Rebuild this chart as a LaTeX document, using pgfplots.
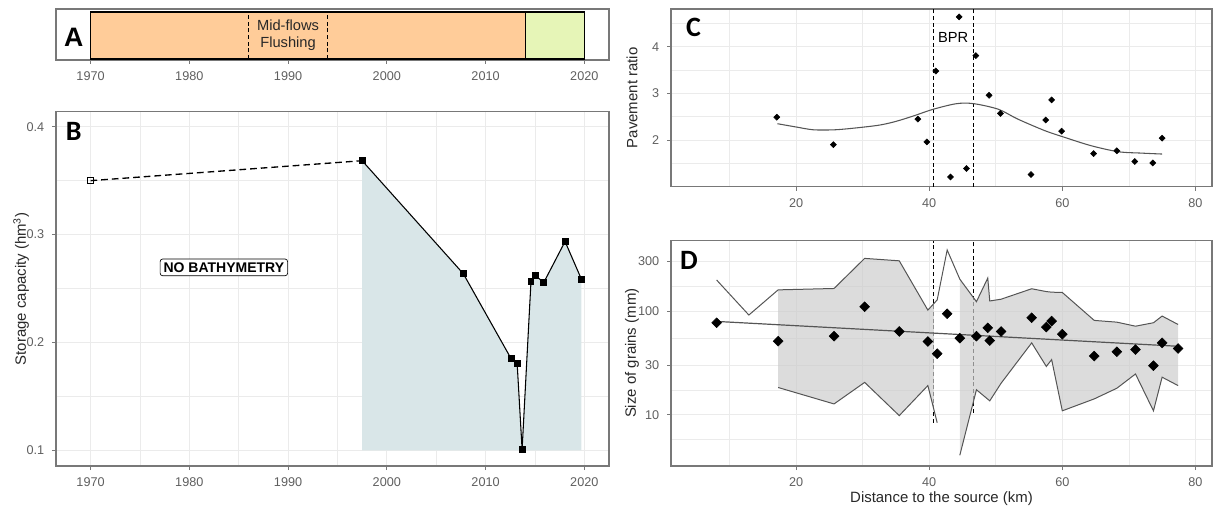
\documentclass[border=0pt]{standalone}
\usepackage{fontspec}
\setmainfont{Liberation Sans}
\newfontfamily\carlito{Carlito}
\usepackage{pgfplots}
\pgfplotsset{compat=1.18}
\definecolor{gridc}{RGB}{235,235,235}
\definecolor{framec}{RGB}{120,120,120}
\definecolor{tickc}{RGB}{95,95,95}
\definecolor{titlec}{RGB}{40,40,40}
\definecolor{orangeA}{RGB}{255,204,153}
\definecolor{greenA}{RGB}{230,245,183}
\definecolor{fillB}{RGB}{217,230,232}
\definecolor{ribbonc}{RGB}{205,205,205}
\definecolor{linec}{RGB}{85,85,85}
\pgfplotsset{
  ggbase/.style={
    scale only axis,
    anchor=south west,
    axis line style={draw=framec, line width=0.9pt},
    tick align=outside,
    major tick length=3pt,
    minor tick length=0pt,
    tick style={color=framec, line width=0.6pt},
    xtick pos=left, ytick pos=left,
    ticklabel style={font=\fontsize{9.5}{10}\selectfont, text=tickc},
    /pgf/number format/assume math mode=true,
    major grid style={color=gridc, line width=0.7pt},
    minor grid style={color=gridc, line width=0.45pt},
    label style={font=\fontsize{11.2}{13}\selectfont, text=titlec},
    xticklabel style={yshift=-2.3pt},
    yticklabel style={xshift=-2.3pt},
  }
}
\begin{document}
\begin{tikzpicture}
\path[use as bounding box] (0,0) rectangle (909.75pt,381pt);

% ---------------- Panel A ----------------
\begin{axis}[ggbase, at={(42pt,336pt)}, width=414.75pt, height=38.25pt,
  xmin=1966.5, xmax=2022.5, ymin=0, ymax=51,
  xtick={1970,1980,1990,2000,2010,2020},
  xticklabels={1970,1980,1990,2000,2010,2020},
  ytick=\empty]
\addplot[draw=black, line width=0.8pt, fill=orangeA] coordinates {(1970,1) (2014,1) (2014,48) (1970,48)} -- cycle;
\addplot[draw=black, line width=0.8pt, fill=greenA] coordinates {(2014,1) (2020,1) (2020,48) (2014,48)} -- cycle;
\addplot[black, line width=0.8pt, dash pattern=on 3pt off 2pt] coordinates {(1986,1) (1986,48)};
\addplot[black, line width=0.8pt, dash pattern=on 3pt off 2pt] coordinates {(1994,1) (1994,48)};
\node[align=center, font=\fontsize{11}{12.5}\selectfont, text=titlec] at (axis cs:1990,24.5) {Mid-flows\\Flushing};
\node[font=\bfseries\fontsize{20}{20}\selectfont] at (axis cs:1968.3,23) {A};
\end{axis}

% ---------------- Panel B ----------------
\begin{axis}[ggbase, at={(42pt,31.5pt)}, width=414.75pt, height=265.7pt,
  xmin=1966.5, xmax=2022.5, ymin=0.0855, ymax=0.4139,
  xtick={1970,1980,1990,2000,2010,2020},
  xticklabels={1970,1980,1990,2000,2010,2020},
  ytick={0.1,0.2,0.3,0.4}, yticklabels={0.1,0.2,0.3,0.4},
  minor xtick={1975,1985,1995,2005,2015}, minor ytick={0.15,0.25,0.35},
  xmajorgrids, ymajorgrids, xminorgrids, yminorgrids,
  ylabel={Storage capacity (hm\textsuperscript{3})},
  ylabel style={at={(axis description cs:-0.063,0.5)}, anchor=center}]
\addplot[draw=none, fill=fillB] coordinates {(1997.5,0.1) (1997.5,0.3685) (2007.75,0.2637) (2012.6,0.1848) (2013.2,0.1804) (2013.7,0.1009) (2014.6,0.2566) (2015.05,0.2619) (2015.9,0.2557) (2018.05,0.2936) (2019.7,0.2588) (2019.7,0.1)} -- cycle;
\addplot[black, line width=1pt, dash pattern=on 5pt off 3pt] coordinates {(1970,0.35) (1997.5,0.3685)};
\addplot[black, line width=0.8pt, mark=square*, mark size=2.2pt, mark options={solid, fill=black}] coordinates {(1997.5,0.3685) (2007.75,0.2637) (2012.6,0.1848) (2013.2,0.1804) (2013.7,0.1009) (2014.6,0.2566) (2015.05,0.2619) (2015.9,0.2557) (2018.05,0.2936) (2019.7,0.2588)};
\addplot[only marks, mark=square, mark size=2.2pt, mark options={fill=white, draw=black, line width=0.7pt}] coordinates {(1970,0.35)};
\node[draw=black, rounded corners=2pt, fill=white, line width=0.5pt, inner sep=2.6pt, font=\bfseries\fontsize{10.5}{12}\selectfont] at (axis cs:1983.5,0.2696) {NO BATHYMETRY};
\node[font=\carlito\bfseries\fontsize{21}{21}\selectfont] at (axis cs:1968.3,0.3954) {B};
\end{axis}

% ---------------- Panel C ----------------
\begin{axis}[ggbase, at={(503.25pt,240.98pt)}, width=405.75pt, height=133.27pt,
  xmin=1.2, xmax=82.5, ymin=1.0, ymax=4.81,
  xtick={20,40,60,80}, xticklabels={20,40,60,80},
  ytick={2,3,4}, yticklabels={2,3,4},
  minor xtick={10,30,50,70}, minor ytick={1.5,2.5,3.5,4.5},
  xmajorgrids, ymajorgrids, xminorgrids, yminorgrids,
  ylabel={Pavement ratio},
  ylabel style={at={(axis description cs:-0.0722,0.5)}, anchor=center}]
\addplot[black, line width=0.7pt, dash pattern=on 3pt off 2pt] coordinates {(40.7,1.0) (40.7,4.81)};
\addplot[black, line width=0.7pt, dash pattern=on 3pt off 2pt] coordinates {(46.7,1.0) (46.7,4.81)};
\addplot[linec, line width=0.8pt, smooth] coordinates {(17.2,2.35) (20,2.28) (22.6,2.22) (25.8,2.22) (29,2.26) (32.5,2.32) (35,2.40) (37.7,2.52) (40.6,2.66) (44.1,2.78) (46.7,2.78) (50.4,2.66) (53.3,2.45) (57.4,2.20) (60.3,2.06) (64.3,1.88) (68.4,1.75) (71.9,1.72) (75.0,1.70)};
\addplot[only marks, mark=square*, mark size=1.6pt, mark options={rotate=45, fill=black, draw=black}] coordinates {(17.1,2.49) (25.6,1.90) (38.3,2.45) (39.65,1.96) (41.0,3.48) (43.2,1.21) (44.5,4.64) (45.6,1.39) (47.0,3.81) (49.0,2.96) (50.7,2.57) (55.3,1.26) (57.5,2.43) (58.4,2.86) (59.9,2.19) (64.7,1.71) (68.2,1.77) (70.9,1.54) (73.6,1.51) (75.0,2.04)};
\node[font=\fontsize{11}{12}\selectfont, text=black] at (axis cs:43.6,4.19) {BPR};
\node[font=\carlito\bfseries\fontsize{21}{21}\selectfont] at (axis cs:4.6,4.42) {C};
\end{axis}

% ---------------- Panel D ----------------
\begin{axis}[ggbase, at={(503.25pt,31.5pt)}, width=405.75pt, height=169.1pt,
  xmin=1.2, xmax=82.5, ymode=log, ymin=3.2, ymax=478.6,
  xtick={20,40,60,80}, xticklabels={20,40,60,80},
  ytick={10,30,100,300}, yticklabels={10,30,100,300},
  minor xtick={10,30,50,70}, minor ytick={5.77,17.3,54.8,173.2},
  xmajorgrids, ymajorgrids, xminorgrids, yminorgrids,
  ylabel={Size of grains (mm)},
  ylabel style={at={(axis description cs:-0.0722,0.5)}, anchor=center},
  xlabel={Distance to the source (km)},
  xlabel style={at={(axis description cs:0.5,-0.1464)}, anchor=center}]
\addplot[black, line width=0.7pt, dash pattern=on 3pt off 2pt] coordinates {(40.7,8.4) (40.7,478.6)};
\addplot[black, line width=0.7pt, dash pattern=on 3pt off 2pt] coordinates {(46.7,10.4) (46.7,478.6)};
\addplot[draw=none, fill=ribbonc, fill opacity=0.7] coordinates {(17.3,160) (25.7,165) (30.3,322) (35.5,305) (39.8,102) (40.7,118) (40.7,11.2) (39.8,19.1) (35.5,9.8) (30.3,20.5) (25.7,12.7) (17.3,18.3)} -- cycle;
\addplot[draw=none, fill=ribbonc, fill opacity=0.7] coordinates {(44.6,203) (47.1,123) (48.8,208) (49.1,125) (50.8,130) (55.4,164) (57.6,154) (58.4,152) (60.0,151) (64.8,81.2) (68.2,78.1) (71.0,71.4) (73.7,77.1) (75.0,89.4) (77.4,74.2) (77.4,19.1) (75.0,23.0) (73.7,10.9) (71.0,24.7) (68.2,18.0) (64.8,14.2) (60.0,10.9) (58.4,34) (57.6,29.2) (55.4,49.3) (50.8,20.1) (49.1,13.6) (47.1,17.4) (44.6,4.06)} -- cycle;
\addplot[linec, line width=0.75pt] coordinates {(8.06,199) (12.9,91.5) (17.3,160) (25.7,165) (30.3,322) (35.5,305) (39.8,102) (41.2,128) (42.7,388) (44.6,203) (47.1,123) (48.8,208) (49.1,125) (50.8,130) (55.4,164) (57.6,154) (58.4,152) (60.0,151) (64.8,81.2) (68.2,78.1) (71.0,71.4) (73.7,77.1) (75.0,89.4) (77.4,74.2)};
\addplot[linec, line width=0.75pt] coordinates {(17.3,18.3) (25.7,12.7) (30.3,20.5) (35.5,9.8) (39.8,19.1) (41.2,8.36)};
\addplot[linec, line width=0.75pt] coordinates {(44.6,4.06) (47.1,17.4) (49.1,13.6) (50.8,20.1) (55.4,49.3) (57.6,29.2) (58.4,34) (60.0,10.9) (64.8,14.2) (68.2,18.0) (71.0,24.7) (73.7,10.9) (75.0,23.0) (77.4,19.1)};
\addplot[linec, line width=0.9pt] coordinates {(8.06,79.4) (77.4,45.7)};
\addplot[only marks, mark=square*, mark size=2.6pt, mark options={rotate=45, fill=black, draw=black}] coordinates {(8.06,77) (17.3,51.2) (25.7,57.2) (30.3,110) (35.5,63.5) (39.8,50.8) (41.2,38.8) (42.7,94.2) (44.6,54.7) (47.1,57.2) (48.8,68.9) (49.1,51.9) (50.8,63.5) (55.4,86.1) (57.6,70.0) (58.4,80.0) (60.0,59.8) (64.8,36.8) (68.2,40.5) (71.0,42.5) (73.7,29.7) (75.0,49.3) (77.4,43.5)};
\node[font=\carlito\bfseries\fontsize{21}{21}\selectfont] at (axis cs:3.9,305) {D};
\end{axis}
\end{tikzpicture}
\end{document}
